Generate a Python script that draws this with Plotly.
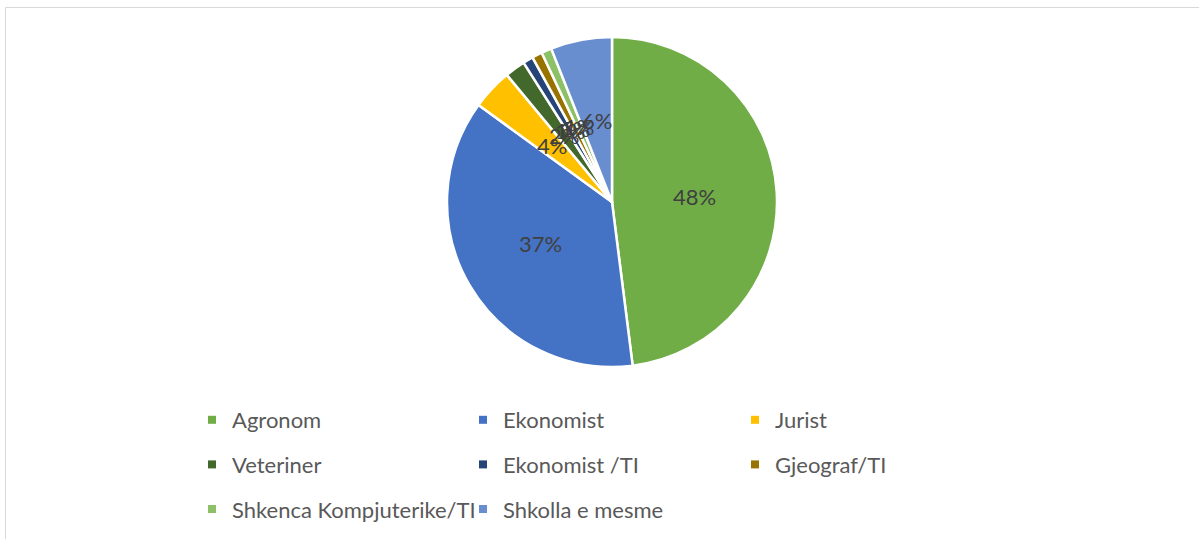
import math
import plotly.graph_objects as go

categories = ["Agronom", "Ekonomist", "Jurist", "Veteriner", "Ekonomist /TI",
              "Gjeograf/TI", "Shkenca Kompjuterike/TI", "Shkolla e mesme"]
values = [48, 37, 4, 2, 1, 1, 1, 6]
colors = ["#70AD47", "#4472C4", "#FFC000", "#43682B", "#264478",
          "#997300", "#8CC168", "#698ED0"]

W, H = 1199, 539
FONT = "Lato"
PIE_CX, PIE_CY, PIE_R = 612, 202, 165   # pixel layout of the pie domain

dom_x = [(PIE_CX - PIE_R) / W, (PIE_CX + PIE_R) / W]
dom_y = [(H - PIE_CY - PIE_R) / H, (H - PIE_CY + PIE_R) / H]

fig = go.Figure()
fig.add_trace(go.Pie(
    labels=categories, values=values, sort=False, direction="clockwise",
    rotation=0, marker=dict(colors=colors, line=dict(color="white", width=2.5)),
    textinfo="none", domain=dict(x=dom_x, y=dom_y),
    showlegend=False, hoverinfo="label+percent",
))

# data labels placed like Excel: on each slice bisector at half the radius
total = sum(values)
annotations = []
cum = 0.0
for v in values:
    mid = (cum + v / 2) / total * 2 * math.pi  # clockwise from 12 o'clock
    cum += v
    r = 0.5 * PIE_R
    ax = (PIE_CX + r * math.sin(mid)) / W
    ay = (H - PIE_CY + r * math.cos(mid)) / H
    annotations.append(dict(
        x=ax, y=ay, xref="paper", yref="paper", showarrow=False,
        text=f"{round(v / total * 100)}%", xanchor="center", yanchor="middle",
        font=dict(family=FONT, size=22, color="#404040"),
    ))

# legend columns: each column is its own legend
columns = [[0, 3, 6], [1, 4, 7], [2, 5]]
legend_names = ["legend", "legend2", "legend3"]
col_x = [192, 463, 735]
for ci, idxs in enumerate(columns):
    for i in idxs:
        fig.add_trace(go.Scatter(
            x=[None], y=[None], mode="markers", name=categories[i],
            marker=dict(symbol="square", size=8, color=colors[i]),
            legend=legend_names[ci], legendgroup=categories[i], showlegend=True,
        ))

leg_common = dict(orientation="v", yanchor="top", xanchor="left", traceorder="grouped",
                  tracegroupgap=13, bgcolor="rgba(0,0,0,0)",
                  font=dict(family=FONT, size=22, color="#595959"))
y_top = (H - 399) / H
fig.update_layout(
    legend=dict(x=col_x[0] / W, y=y_top, **leg_common),
    legend2=dict(x=col_x[1] / W, y=y_top, **leg_common),
    legend3=dict(x=col_x[2] / W, y=y_top, **leg_common),
    width=W, height=H, margin=dict(l=0, r=0, t=0, b=0),
    paper_bgcolor="white", plot_bgcolor="white",
    xaxis=dict(visible=False), yaxis=dict(visible=False),
    annotations=annotations,
    shapes=[
        dict(type="line", xref="paper", yref="paper", x0=5.5 / W, x1=1, y0=1 - 7.5 / H, y1=1 - 7.5 / H,
             line=dict(color="#D9D9D9", width=1)),
        dict(type="line", xref="paper", yref="paper", x0=5.5 / W, x1=5.5 / W, y0=0, y1=1 - 7.5 / H,
             line=dict(color="#D9D9D9", width=1)),
    ],
)

fig.write_html("out.html", config={"displayModeBar": False},
               post_script="document.body.style.margin='0';document.body.style.overflow='hidden';")
